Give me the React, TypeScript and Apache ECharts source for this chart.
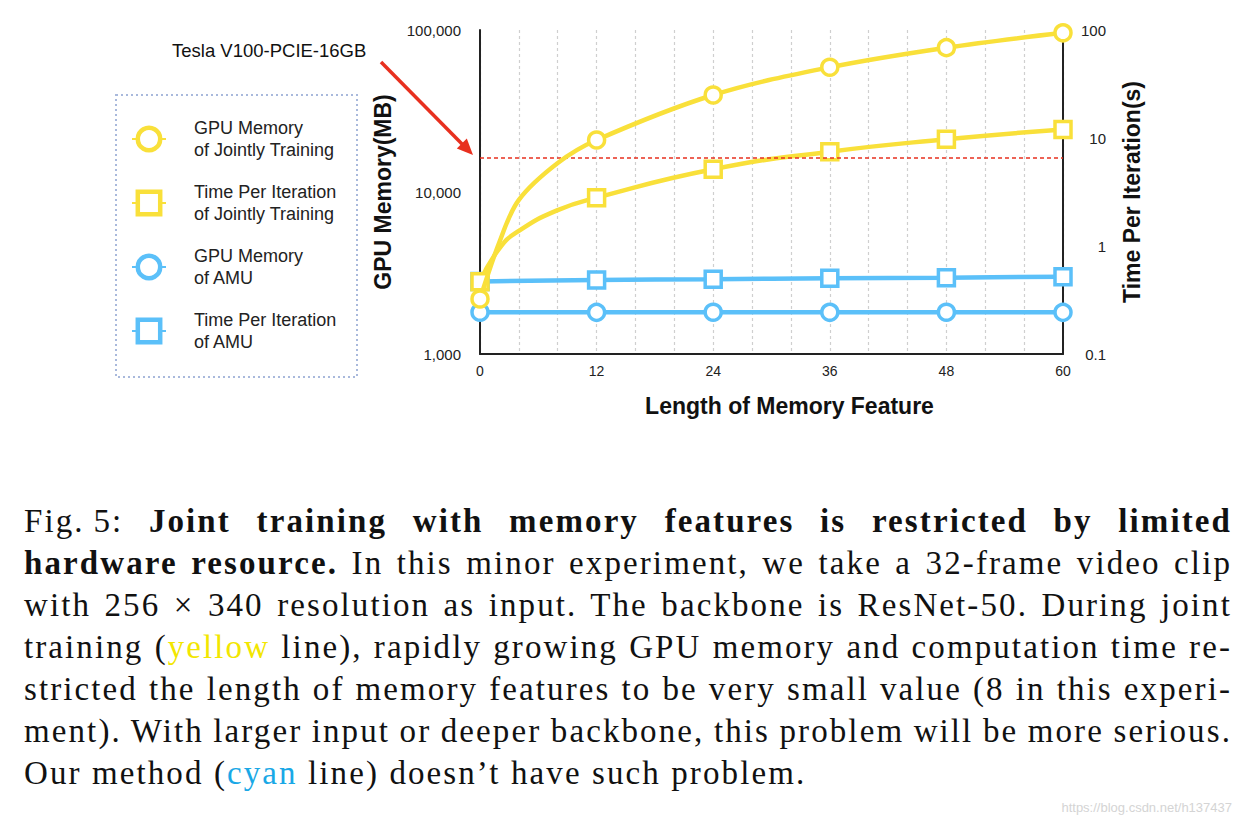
import React, { useEffect, useRef } from 'react';
import * as echarts from 'echarts';

// ---- data ----
const xLabelTicks = [0, 12, 24, 36, 48, 60];
const gpuJointX = [0, 2, 4, 8, 12, 24, 36, 48, 60];
const gpuJointMB = [2185, 4910, 8940, 15100, 20940, 39700, 58900, 77800, 96100];
const gpuJointMarked = [true, false, false, false, true, true, true, true, true];
const timeJointX = [0, 2, 4, 8, 12, 24, 36, 48, 60];
const timeJointSec = [0.467, 0.95, 1.38, 2.15, 2.8, 5.13, 7.47, 9.73, 12.0];
const timeJointMarked = [true, false, false, false, true, true, true, true, true];
const amuX = [0, 12, 24, 36, 48, 60];
const gpuAmuMB = [1810, 1808, 1810, 1809, 1810, 1808];
const timeAmuSec = [0.47, 0.484, 0.492, 0.502, 0.509, 0.52];
const gpuLimitMB = 16384;
const leftTickLabels = ['1,000', '10,000', '100,000'];
const rightTickLabels = ['0.1', '1', '10', '100'];

const seriesNames = [
  'GPU Memory\nof Jointly Training',
  'Time Per Iteration\nof Jointly Training',
  'GPU Memory\nof AMU',
  'Time Per Iteration\nof AMU',
];

const YELLOW = '#F9E03A';
const BLUE = '#5BC0F9';
const RED = '#E8301F';
const SANS = 'Liberation Sans, Arial, Helvetica, sans-serif';

function pts(xs: number[], ys: number[], marked?: boolean[]) {
  return xs.map((x, i) =>
    marked && !marked[i] ? { value: [x, ys[i]], symbol: 'none' } : { value: [x, ys[i]] }
  );
}

function Chart() {
  const ref = useRef<HTMLDivElement>(null);
  useEffect(() => {
    if (!ref.current) return;
    const chart = echarts.init(ref.current, undefined, { renderer: 'svg' });
    const axisLine = { show: true, lineStyle: { color: '#222', width: 2 } };
    const mk = (name: string, color: string, symbol: string, yAxisIndex: number, data: any[], z: number, extra: any = {}) => ({
      name,
      type: 'line',
      yAxisIndex,
      data,
      z,
      symbol,
      symbolSize: 16,
      smooth: 0.35,
      lineStyle: { color, width: 4.5 },
      itemStyle: { color: '#fff', borderColor: color, borderWidth: 3.5 },
      emphasis: { disabled: true },
      ...extra,
    });
    chart.setOption({
      animation: false,
      textStyle: { fontFamily: SANS },
      grid: { left: 480, right: 179, top: 30, bottom: 473 },
      legend: {
        data: seriesNames,
        orient: 'vertical',
        left: 131,
        top: 117,
        padding: 0,
        itemWidth: 34,
        itemHeight: 28,
        itemGap: 20,
        selectedMode: false,
        itemStyle: { borderWidth: 4.5 },
        textStyle: { fontSize: 18, lineHeight: 22, color: '#222', fontFamily: SANS, padding: [0, 0, 0, 23] },
      },
      xAxis: {
        type: 'value',
        min: 0,
        max: 60,
        interval: 4,
        axisLine,
        axisTick: { show: false },
        axisLabel: {
          formatter: (v: number) => (xLabelTicks.includes(v) ? String(v) : ''),
          fontSize: 14,
          color: '#222',
          margin: 10,
        },
        splitLine: { show: true, lineStyle: { color: '#cfcfcf', type: [3, 3], width: 1.2 } },
        name: 'Length of Memory Feature',
        nameLocation: 'middle',
        nameGap: 40,
        nameTextStyle: { fontSize: 23, fontWeight: 'bold', color: '#111', padding: [0, 0, 0, 36] },
      },
      yAxis: [
        {
          type: 'log',
          logBase: 10,
          min: 1000,
          max: 100000,
          position: 'left',
          axisLine,
          axisTick: { show: false },
          splitLine: { show: false },
          axisLabel: {
            formatter: (v: number) => leftTickLabels[Math.round(Math.log10(v)) - 3] ?? '',
            fontSize: 15,
            color: '#222',
            margin: 19,
          },
          name: 'GPU Memory(MB)',
          nameLocation: 'middle',
          nameGap: 86,
          nameTextStyle: { fontSize: 23, fontWeight: 'bold', color: '#111' },
        },
        {
          type: 'log',
          logBase: 10,
          min: 0.1,
          max: 100,
          position: 'right',
          axisLine,
          axisTick: { show: false },
          splitLine: { show: false },
          axisLabel: {
            formatter: (v: number) => rightTickLabels[Math.round(Math.log10(v)) + 1] ?? '',
            fontSize: 15,
            color: '#222',
            margin: 43,
            align: 'right',
          },
          name: 'Time Per Iteration(s)',
          nameLocation: 'middle',
          nameGap: 57,
          nameTextStyle: { fontSize: 23, fontWeight: 'bold', color: '#111' },
        },
      ],
      series: [
        mk(seriesNames[2], BLUE, 'circle', 0, pts(amuX, gpuAmuMB), 3),
        mk(seriesNames[3], BLUE, 'rect', 1, pts(amuX, timeAmuSec), 3),
        mk(seriesNames[1], YELLOW, 'rect', 1, pts(timeJointX, timeJointSec, timeJointMarked), 4, { smooth: 0.5 }),
        mk(seriesNames[0], YELLOW, 'circle', 0, pts(gpuJointX, gpuJointMB, gpuJointMarked), 5, {
          markLine: {
            silent: true,
            symbol: ['none', 'none'],
            label: { show: false },
            lineStyle: { color: RED, type: [4, 3], width: 1.5 },
            data: [{ yAxis: gpuLimitMB }],
          },
        }),
      ],
      graphic: [
        {
          type: 'rect',
          shape: { x: 116, y: 95, width: 241, height: 282 },
          style: { fill: 'none', stroke: '#a9b9dc', lineWidth: 2, lineDash: [2, 3] },
        },
        {
          type: 'text',
          x: 172,
          y: 50,
          style: { text: 'Tesla V100-PCIE-16GB', fontSize: 18.5, fontFamily: SANS, fill: '#111', verticalAlign: 'middle' },
        },
        {
          type: 'line',
          shape: { x1: 381, y1: 62, x2: 463, y2: 145 },
          style: { stroke: RED, lineWidth: 3.5 },
        },
        {
          type: 'polygon',
          shape: { points: [[473, 155], [456.8, 148.4], [466.8, 138.6]] },
          style: { fill: RED },
        },
      ],
    });
    return () => chart.dispose();
  }, []);
  return <div ref={ref} style={{ position: 'absolute', left: 0, top: 0, width: 1242, height: 827 }} />;
}

const lineStyle: React.CSSProperties = {
  height: 42,
  lineHeight: '42px',
  textAlign: 'justify',
  textAlignLast: 'justify',
  whiteSpace: 'nowrap',
};

export default function App() {
  return (
    <div style={{ position: 'absolute', left: 0, top: 0, width: 1242, height: 827, background: '#fff', overflow: 'hidden' }}>
      <Chart />
      <div
        style={{
          position: 'absolute',
          left: 24,
          top: 500,
          width: 1208,
          fontFamily: '"Liberation Serif", "DejaVu Serif", serif',
          fontSize: 33,
          letterSpacing: '2.1px',
          color: '#111',
        }}
      >
        <div style={lineStyle}>
          Fig.&thinsp;5: <b>Joint training with memory features is restricted by limited</b>
        </div>
        <div style={lineStyle}>
          <b>hardware resource.</b> In this minor experiment, we take a 32-frame video clip
        </div>
        <div style={lineStyle}>with 256 × 340 resolution as input. The backbone is ResNet-50. During joint</div>
        <div style={lineStyle}>
          training (<span style={{ color: '#F2E600' }}>yellow</span> line), rapidly growing GPU memory and computation time re-
        </div>
        <div style={lineStyle}>stricted the length of memory features to be very small value (8 in this experi-</div>
        <div style={{ ...lineStyle, wordSpacing: '-3px' }}>
          ment). With larger input or deeper backbone, this problem will be more serious.
        </div>
        <div style={{ ...lineStyle, textAlignLast: 'left' }}>
          Our method (<span style={{ color: '#1AA8E6' }}>cyan</span> line) doesn’t have such problem.
        </div>
      </div>
      <div
        style={{
          position: 'absolute',
          right: 10,
          top: 800,
          fontFamily: SANS,
          fontSize: 13,
          color: '#d4d4d4',
        }}
      >
        https://blog.csdn.net/h137437
      </div>
    </div>
  );
}
